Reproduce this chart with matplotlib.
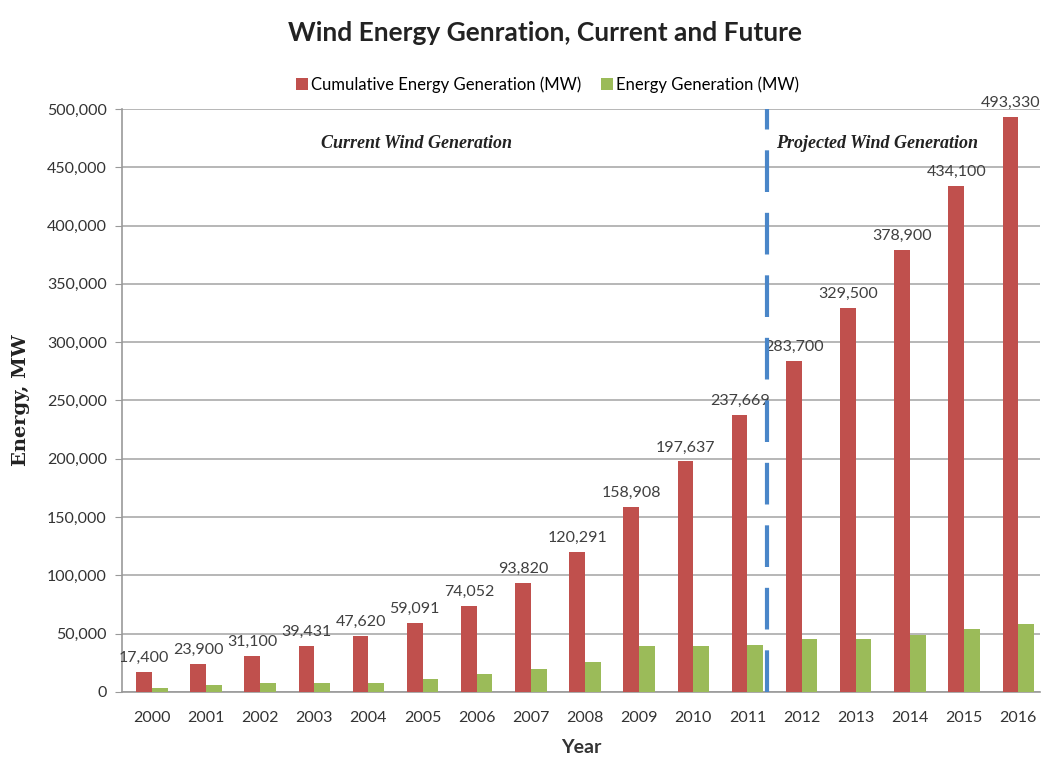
import numpy as np
import matplotlib
matplotlib.use("Agg")
import matplotlib.pyplot as plt

plt.rcParams['font.family'] = ['Lato', 'DejaVu Sans']

years = ["2000", "2001", "2002", "2003", "2004", "2005", "2006", "2007", "2008",
         "2009", "2010", "2011", "2012", "2013", "2014", "2015", "2016"]
cumulative = [17400, 23900, 31100, 39431, 47620, 59091, 74052, 93820, 120291,
              158908, 197637, 237669, 283700, 329500, 378900, 434100, 493330]
generation = [3500, 6300, 7700, 7700, 7700, 11000, 15000, 20000, 26000,
              39000, 39000, 40500, 45000, 45000, 49000, 54000, 58500]

red = "#c0504d"
green = "#9bbb59"

fig = plt.figure(figsize=(10.43, 7.57), dpi=100)
ax = fig.add_axes([0.117, 0.086, 0.88, 0.770])

x = np.arange(len(years))
w = 0.29
ax.bar(x - w / 2, cumulative, w, color=red, label="Cumulative Energy Generation (MW)", zorder=3)
ax.bar(x + w / 2, generation, w, color=green, label="Energy Generation (MW)", zorder=3)

for xi, v in zip(x, cumulative):
    ax.text(xi - w / 2, v + 6000, f"{v:,}", ha="center", va="bottom",
            fontsize=11.5, color="#404040", zorder=4)

ax.set_ylim(0, 500000)
ax.set_xlim(-0.55, 16.4)
ax.set_yticks(np.arange(0, 500001, 50000))
ax.set_yticklabels([f"{t:,}" for t in range(0, 500001, 50000)], fontsize=11.5, color="#333333")
ax.set_xticks(x)
ax.set_xticklabels(years, fontsize=11.5, color="#333333")
ax.tick_params(axis="x", length=0, pad=14)
ax.tick_params(axis="y", length=5, color="#999999", pad=6)
ax.yaxis.grid(True, color="#aaaaaa", linewidth=1.2, zorder=0)
for s in ["top", "right"]:
    ax.spines[s].set_visible(False)
ax.spines["left"].set_color("#999999")
ax.spines["bottom"].set_color("#999999")
ax.spines["left"].set_linewidth(1.2)
ax.spines["bottom"].set_linewidth(1.2)

ax.axvline(11.36, color="#4a86c8", linestyle=(0, (10, 5)), linewidth=3, zorder=5)

ax.text(4.89, 470000, "Current Wind Generation", fontsize=13, fontstyle="italic",
        fontweight="bold", family="Liberation Serif", color="#222222", ha="center", va="center")
ax.text(13.4, 470000, "Projected Wind Generation", fontsize=13, fontstyle="italic",
        fontweight="bold", family="Liberation Serif", color="#222222", ha="center", va="center")

ax.set_xlabel("Year", fontsize=14, fontweight="bold", color="#333333", labelpad=10)
ax.set_ylabel("Energy, MW", fontsize=14, fontweight="bold", family="DejaVu Serif",
              color="#222222", labelpad=12)

fig.text(0.523, 0.957, "Wind Energy Genration, Current and Future", fontsize=19,
         fontweight="bold", ha="center", va="center", color="#222222")
fig.legend(loc="center", bbox_to_anchor=(0.525, 0.888), ncol=2, frameon=False,
           fontsize=12, handlelength=0.7, handleheight=0.7, handletextpad=0.2,
           columnspacing=1.2)

plt.savefig("out.png", dpi=100)
